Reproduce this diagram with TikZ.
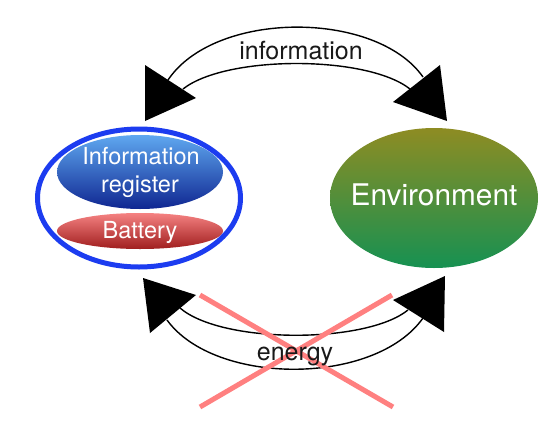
\documentclass[tikz,border=0pt]{standalone}
\usepackage{fontspec}
\setmainfont{TeX Gyre Heros}
\usetikzlibrary{shapes.geometric}
\definecolor{ringblue}{RGB}{28,60,240}
\definecolor{irtop}{RGB}{95,168,240}
\definecolor{irbot}{RGB}{15,38,145}
\definecolor{battop}{RGB}{245,130,130}
\definecolor{batbot}{RGB}{160,30,30}
\definecolor{envtop}{RGB}{142,140,35}
\definecolor{envbot}{RGB}{22,145,82}
\definecolor{crossred}{RGB}{255,128,128}
\begin{document}
\begin{tikzpicture}[x=1pt,y=-1pt,
  blob/.style={ellipse, inner sep=0pt, draw=none},
  lbl/.style={text=white, anchor=base, inner sep=0pt, font=\fontsize{23.5}{28}\selectfont},
  flowtxt/.style={text=black!90, anchor=base, inner sep=0pt, font=\fontsize{25}{29}\selectfont},
  flow/.style={line width=1.4pt, black},
  head/.style={fill=black},
  cross/.style={line width=5pt, crossred}]
\useasboundingbox (0,0) rectangle (558,440);
\fill[white] (0,0) rectangle (558,440);

% left group
\node[blob, minimum width=166pt, minimum height=74pt, top color=irtop, bottom color=irbot] (ir) at (140,172) {};
\node[blob, minimum width=166pt, minimum height=36pt, top color=battop, bottom color=batbot] (bat) at (140,231) {};
\node[ellipse, draw=ringblue, line width=5pt, inner sep=0pt, minimum width=203pt, minimum height=138pt] (ring) at (139,198) {};
\node[lbl] (irtxta) at (141,164) {Information};
\node[lbl] (irtxtb) at (140,192) {register};
\node[lbl] (battxt) at (140,238) {Battery};

% environment
\node[blob, minimum width=208pt, minimum height=140pt, top color=envtop, bottom color=envbot] (env) at (434,198) {};
\node[lbl, font=\fontsize{29.8}{34}\selectfont] (envtxt) at (434,205) {Environment};

% top arrow (information)
\coordinate (tlo) at (168,80);
\coordinate (tro) at (423,77);
\coordinate (tli) at (183,89);
\coordinate (tri) at (410,89);
\draw[flow] (tlo) .. controls (215,10) and (376,10) .. (tro);
\draw[flow] (tli) .. controls (226,55) and (367,55) .. (tri);
\fill[head] (145,65) -- (145,121) -- (196,98) -- cycle;
\fill[head] (440,65) -- (447,121) -- (393,102) -- cycle;
\node[flowtxt] (info) at (301,59) {information};

% bottom arrow (energy)
\coordinate (bli) at (180,308);
\coordinate (bri) at (408,310);
\coordinate (blo) at (167,320);
\coordinate (bro) at (423,318);
\draw[flow] (bli) .. controls (222,344) and (366,344) .. (bri);
\draw[flow] (blo) .. controls (215,386) and (375,386) .. (bro);
\fill[head] (143,278) -- (150,333) -- (196,295) -- cycle;
\fill[head] (445,276) -- (444,332) -- (393,300) -- cycle;

% cross
\coordinate (xa) at (200,295);
\coordinate (xb) at (393,407);
\coordinate (xc) at (200,407);
\coordinate (xd) at (392,295);
\draw[cross] (xa) -- (xb);
\draw[cross] (xc) -- (xd);
\node[flowtxt] (energy) at (295,360) {energy};
\end{tikzpicture}
\end{document}
